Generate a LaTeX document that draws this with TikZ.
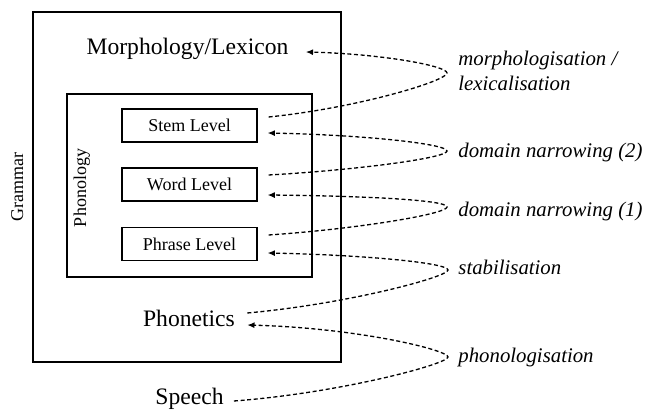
\documentclass[tikz,border=0pt]{standalone}
\usepackage{fontspec}
\setmainfont{Liberation Serif}
\usetikzlibrary{arrows.meta}
\begin{document}
\begin{tikzpicture}[x=0.5pt,y=-0.5pt,
  frame/.style={draw, line width=0.6pt, inner sep=0pt},
  lvl/.style={draw, line width=0.6pt, minimum width=67.5pt, minimum height=16.5pt, inner sep=0pt, font=\fontsize{9}{10}\selectfont},
  big/.style={font=\fontsize{11.8}{13}\selectfont, inner sep=0pt, anchor=base},
  lab/.style={font=\fontsize{10.4}{12.5}\selectfont\itshape, inner sep=0pt, anchor=base west, align=left},
  side/.style={font=\fontsize{9}{10}\selectfont, rotate=90, anchor=base, inner sep=0pt},
  flow/.style={dash pattern=on 2pt off 1.3pt, line width=0.65pt, -{Latex[length=3.6pt,width=3pt]}}
]
\useasboundingbox (0,0) rectangle (646,410);
% frames
\node[frame, minimum width=154pt, minimum height=175pt] (grammar) at (187,187) {};
\node[frame, minimum width=122.5pt, minimum height=91.5pt] (phonology) at (189.5,185.5) {};
\node[side] (grammarlab) at (23,187.5) {Grammar};
\node[side] (phonlab) at (86,188) {Phonology};
% levels
\node[lvl] (stem) at (189.5,125.5) {Stem Level};
\node[lvl] (word) at (189.5,184.5) {Word Level};
\node[lvl] (phrase) at (189.5,244) {Phrase Level};
% big labels
\node[big] (morph) at (187.5,55) {Morphology/Lexicon};
\node[big] (phonetics) at (189,327) {Phonetics};
\node[big] (speech) at (189.5,404) {Speech};
% process labels
\node[lab] (lmorph) at (458,91) {morphologisation /\\lexicalisation};
\node[lab] (ldn2) at (458,158) {domain narrowing (2)};
\node[lab] (ldn1) at (458,217) {domain narrowing (1)};
\node[lab] (lstab) at (458,275) {stabilisation};
\node[lab] (lphon) at (458,362) {phonologisation};
% curve end points and apexes
\coordinate (m1) at ([shift={(11,-8.5)}]stem.east);
\coordinate (m2) at ([shift={(17,-3)}]morph.base east);
\coordinate (mA) at (447,73);
\coordinate (a1) at ([shift={(11,-9.5)}]word.east);
\coordinate (a2) at ([shift={(10,7.5)}]stem.east);
\coordinate (aA) at (447,151);
\coordinate (b1) at ([shift={(11,-9)}]phrase.east);
\coordinate (b2) at ([shift={(10,10.5)}]word.east);
\coordinate (bA) at (447,207);
\coordinate (c1) at ([shift={(12,-14)}]phonetics.base east);
\coordinate (c2) at ([shift={(10,9)}]phrase.east);
\coordinate (cA) at (448,270);
\coordinate (d1) at ([shift={(10,-3)}]speech.base east);
\coordinate (d2) at ([shift={(12,-2)}]phonetics.base east);
\coordinate (dA) at (448,357);
% curves
\draw[flow] (m1) .. controls (357,108) and (447,81) .. (mA) .. controls (447,66) and (383,54) .. (m2);
\draw[flow] (a1) .. controls (357,170) and (447,158) .. (aA) .. controls (447,144) and (366,135) .. (a2);
\draw[flow] (b1) .. controls (357,229) and (447,214) .. (bA) .. controls (447,200) and (366,196) .. (b2);
\draw[flow] (c1) .. controls (347,304) and (448,277) .. (cA) .. controls (448,263) and (366,255) .. (c2);
\draw[flow] (d1) .. controls (340,393) and (448,364) .. (dA) .. controls (448,350) and (358,328) .. (d2);
\end{tikzpicture}
\end{document}
